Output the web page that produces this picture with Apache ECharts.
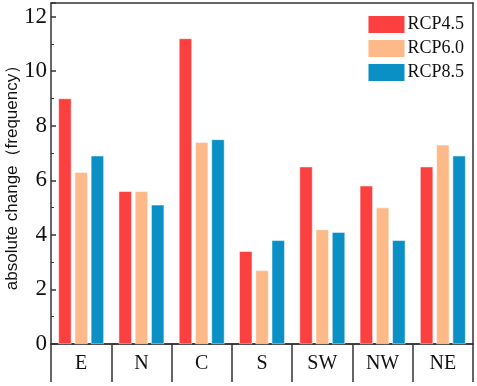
<!DOCTYPE html>
<html>
<head>
<meta charset="utf-8">
<script src="https://cdn.jsdelivr.net/npm/echarts@6/dist/echarts.min.js"></script>
<style>
html, body { margin: 0; padding: 0; background: #fff; }
#chart { width: 477px; height: 386px; }
</style>
</head>
<body>
<div id="chart"></div>
<script>
// regions and values
var regions = ['E', 'N', 'C', 'S', 'SW', 'NW', 'NE'];
var rcp45 = [9.0, 5.6, 11.2, 3.4, 6.5, 5.8, 6.5];
var rcp60 = [6.3, 5.6, 7.4, 2.7, 4.2, 5.0, 7.3];
var rcp85 = [6.9, 5.1, 7.5, 3.8, 4.1, 3.8, 6.9];
var yTicks = [0, 2, 4, 6, 8, 10, 12];

var myChart = echarts.init(document.getElementById('chart'));

var serif = '"Liberation Serif", "Times New Roman", serif';
var lineStyle = { color: '#333', width: 1.5 };

function barSeries(name, data, color) {
	return {
		name: name,
		type: 'bar',
		data: data,
		barWidth: 13,
		barGap: '25%',
		itemStyle: { color: color, borderColor: '#fff', borderWidth: 0.5 }
	};
}

var option = {
	animation: false,
	backgroundColor: '#fff',
	grid: { left: 51, right: 4, top: 3, bottom: 42, containLabel: false, outerBoundsMode: 'none' },
	legend: {
		right: 8,
		top: 9,
		orient: 'vertical',
		icon: 'rect',
		itemWidth: 38,
		itemHeight: 19,
		itemGap: 3,
		textStyle: { fontFamily: serif, fontSize: 18, color: '#111', padding: [0, 0, 0, -3] },
		data: ['RCP4.5', 'RCP6.0', 'RCP8.5']
	},
	xAxis: [{
		type: 'category',
		data: regions,
		position: 'bottom',
		axisLine: { lineStyle: lineStyle },
		axisTick: { show: true, inside: false, length: 38, lineStyle: lineStyle },
		axisLabel: { fontFamily: serif, fontSize: 20, color: '#111', margin: 10 }
	}, {
		type: 'category',
		data: regions,
		position: 'bottom',
		offset: 38,
		axisLine: { lineStyle: lineStyle },
		axisTick: { show: false },
		axisLabel: { show: false }
	}, {
		type: 'category',
		data: regions,
		position: 'top',
		axisLine: { lineStyle: lineStyle },
		axisTick: { show: false },
		axisLabel: { show: false }
	}],
	yAxis: [{
		type: 'value',
		min: 0,
		max: 12.5,
		interval: 2,
		name: 'absolute change（frequency）',
		nameLocation: 'middle',
		nameGap: 30,
		nameMoveOverlap: false,
		nameTextStyle: { fontFamily: '"Liberation Sans", Arial, sans-serif', fontSize: 17, color: '#111' },
		axisLine: { show: true, lineStyle: lineStyle },
		axisTick: { show: true, inside: true, length: 5, lineStyle: lineStyle },
		minorTick: { show: true, splitNumber: 2, length: 3, lineStyle: { color: '#333', width: 1 } },
		splitLine: { show: false },
		axisLabel: {
			fontFamily: serif, fontSize: 23, color: '#111', margin: 4,
			formatter: function (v) { return yTicks.indexOf(v) >= 0 ? v : ''; }
		}
	}, {
		type: 'value',
		min: 0,
		max: 12.5,
		position: 'right',
		axisLine: { show: true, lineStyle: lineStyle },
		axisTick: { show: false },
		axisLabel: { show: false },
		splitLine: { show: false }
	}],
	series: [
		barSeries('RCP4.5', rcp45, '#FC4040'),
		barSeries('RCP6.0', rcp60, '#FDBA88'),
		barSeries('RCP8.5', rcp85, '#0A90C4')
	]
};

myChart.setOption(option, true);
</script>
</body>
</html>
